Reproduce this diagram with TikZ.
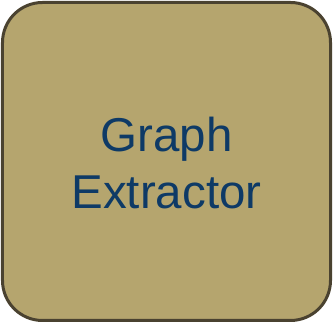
\documentclass[tikz,border=0pt]{standalone}
\usepackage{fontspec}
\setmainfont{Liberation Sans}
\definecolor{boxfill}{HTML}{B5A56E}
\definecolor{boxline}{HTML}{4A4230}
\definecolor{txt}{HTML}{0E3A66}
\begin{document}
\begin{tikzpicture}[x=1pt,y=1pt,
  procbox/.style={draw=boxline, fill=boxfill, line width=3pt, rounded corners=40pt,
    minimum width=328pt, minimum height=318pt, text=txt, align=center,
    font=\fontsize{47.5}{57}\selectfont, inner sep=0pt}]
\useasboundingbox (0,0) rectangle (333,323);
\node[procbox] (gx) at (166.5,161.5) {};
\node[text=txt, align=center, font=\fontsize{47.5}{57}\selectfont, inner sep=0pt] (lbl) at (166.5,160) {Graph\\Extractor};
\end{tikzpicture}
\end{document}
